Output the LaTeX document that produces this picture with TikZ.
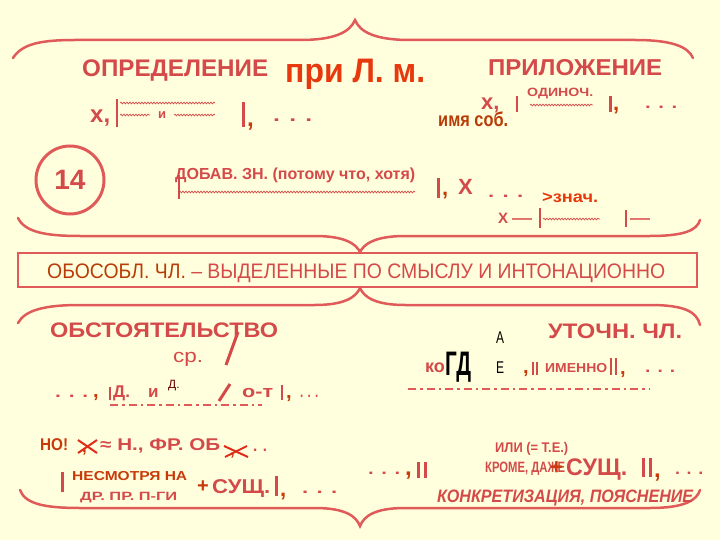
\documentclass[tikz,border=0pt]{standalone}
\usepackage{fontspec}
\setmainfont{Liberation Sans}
\usetikzlibrary{decorations.pathmorphing}
\definecolor{bg}{HTML}{FFFFDD}
\definecolor{lred}{HTML}{E05A5A}
\definecolor{tred}{HTML}{D44A4A}
\definecolor{ored}{HTML}{E8380E}
\definecolor{dor}{HTML}{C83A0A}
\definecolor{brn}{HTML}{B83C08}
\definecolor{crs}{HTML}{E02A1A}
\newcommand\fs[1]{\fontsize{#1}{#1}\selectfont}
\newcommand\fw[3]{\resizebox{#1pt}{\height}{\fontsize{#2}{#2}\selectfont #3}}
\begin{document}
\begin{tikzpicture}[x=1pt,y=-1pt,
  brace/.style={draw=lred,line width=2.5pt,line cap=round},
  t/.style={inner sep=0pt,anchor=base west,text=tred,font=\bfseries},
  bar/.style={draw=tred,line width=1.5pt},
  tbar/.style={draw=tred,line width=3pt},
  wavy/.style={draw=tred,line width=0.7pt,decorate,decoration={snake,amplitude=0.9pt,segment length=3pt}},
  dd/.style={draw=lred,line width=2.5pt,dash pattern=on 8pt off 4pt on 2.5pt off 4pt},
  cross/.style={draw=crs,line width=2pt}]
\fill[bg] (0,0) rectangle (720,540);
\useasboundingbox (0,0) rectangle (720,540);

% braces
\draw[brace] (13,58) .. controls (22,44) and (40,40) .. (75,40) -- (300,40) .. controls (335,40) and (350,32) .. (355,20) .. controls (360,32) and (375,40) .. (410,40) -- (635,40) .. controls (670,40) and (688,46) .. (693,58);
\draw[brace] (18,218) .. controls (25,232) and (45,236) .. (80,236) -- (315,236) .. controls (345,236) and (356,244) .. (360,252) .. controls (364,244) and (375,236) .. (405,236) -- (650,236) .. controls (685,236) and (697,230) .. (700,220);
\draw[draw=lred,line width=2.5pt] (18,253) rectangle (697,287);
\draw[brace] (18,323) .. controls (25,310) and (45,305) .. (80,305) -- (315,305) .. controls (345,305) and (356,297) .. (360,288) .. controls (364,297) and (375,305) .. (405,305) -- (650,305) .. controls (685,305) and (697,312) .. (700,325);
\draw[brace] (20,490) .. controls (25,504) and (45,508) .. (80,508) -- (315,508) .. controls (345,508) and (356,516) .. (360,526) .. controls (364,516) and (375,508) .. (405,508) -- (650,508) .. controls (685,508) and (697,500) .. (700,490);

% top row
\node[t] (opr) at (82,77) {\fw{186}{24}{ОПРЕДЕЛЕНИЕ}};
\node[t,text=ored] (pri) at (285,83) {\fw{140}{34}{при Л. м.}};
\node[t] (pril) at (488,76) {\fw{174}{23}{ПРИЛОЖЕНИЕ}};

% left definition
\node[t] (x1) at (90,123) {\fs{24}х,};
\draw[bar] (117,99) -- (117,127);
\draw[wavy] (120,103) -- (215,103);
\draw[wavy] (120,115) -- (150,115);
\node[t] (i1) at (158,119) {\fs{13}и};
\draw[wavy] (174,115) -- (215,115);
\draw[tbar] (243,102) -- (243,127);
\node[t,text=dor] (c1) at (247,127) {\fs{24},};
\node[t] (d1) at (273,122) {\fw{39}{18}{. . .}};

% right apposition
\node[t] (x2) at (481,110) {\fs{22}х,};
\node[t,text=brn] (imya) at (438,127) {\fw{70}{20}{имя соб.}};
\draw[bar] (517,96) -- (517,112);
\node[t] (odin) at (527,97) {\fw{66}{12}{ОДИНОЧ.}};
\draw[wavy] (530,105) -- (593,105);
\draw[tbar] (610,96) -- (610,112);
\node[t,text=dor] (c2) at (613,111) {\fs{22},};
\node[t] (d2) at (645,109) {\fw{32}{16}{. . .}};

% circle 14
\node[draw=lred,line width=3pt,circle,minimum size=68pt,inner sep=0pt,text=tred,font=\bfseries\fs{28}] (n14) at (70,180) {14};

% dobav
\node[t] (dob) at (175,180) {\fw{240}{16}{ДОБАВ. ЗН. (потому что, хотя)}};
\draw[wavy] (179,192) -- (415,192);
\draw[bar] (179,175) -- (179,199);
\draw[tbar] (438,178) -- (438,198);
\node[t,text=dor] (c3) at (442,196) {\fs{22},};
\node[t] (X1) at (458,195) {\fs{22}Х};
\node[t] (d3) at (488,197) {\fw{35}{16}{. . .}};
\node[t,text=ored] (zn) at (542,203) {\fw{56}{16}{>знач.}};
\node[t] (X2) at (498,223) {\fs{15}Х};
\node[t] (em1) at (512,223) {\fw{20}{15}{—}};
\draw[bar] (540,208) -- (540,228);
\draw[wavy] (543,219) -- (600,219);
\draw[draw=tred,line width=2pt] (626,210) -- (626,227);
\node[t] (em2) at (630,223) {\fw{20}{15}{—}};

% box text
\node[t,font=\mdseries] (boxt) at (47,278) {\fw{618}{21}{\textcolor{brn}{ОБОСОБЛ. ЧЛ.} – ВЫДЕЛЕННЫЕ ПО СМЫСЛУ И ИНТОНАЦИОННО}};

% obstoyatelstvo
\node[t] (obst) at (50,337) {\fw{228}{21}{ОБСТОЯТЕЛЬСТВО}};
\node[t] (utoch) at (548,338) {\fw{134}{21}{УТОЧН. ЧЛ.}};
\node[t,font=\mdseries] (sr) at (173,362) {\fw{30}{19}{ср.}};
\draw[draw=tred,line width=3pt] (238,332) -- (226,365);
\draw[draw=tred,line width=3pt] (230,384) -- (219,401);
\node[t] (d4) at (55,397) {\fw{33}{16}{. . .}};
\node[t,text=dor] (c4) at (93,397) {\fs{20},};
\draw[bar] (110,387) -- (110,400);
\node[t] (D1) at (113,397) {\fs{17}Д.};
\node[t] (i2) at (148,397) {\fs{17}и};
\node[t,font=\mdseries,text=black!60!red] (D2) at (168,388) {\fs{12}Д.};
\node[t] (ot) at (242,397) {\fw{31}{17}{о-т}};
\draw[bar] (282,385) -- (282,400);
\node[t,text=dor] (c5) at (286,398) {\fs{20},};
\node[t] (d5) at (300,397) {\fw{18}{16}{. . .}};
\draw[dd] (110,405) -- (262,405);

% utochn
\node[t] (ko) at (425,372) {\fs{18}ко};
\node[t,text=black] (gd) at (445,375) {\fw{26}{34}{ГД}};
\node[t,text=black,font=\mdseries] (A) at (496,343) {\fw{8}{17}{А}};
\node[t,text=black,font=\mdseries] (E) at (496,373) {\fw{8}{17}{Е}};
\node[t,text=dor] (c6) at (523,373) {\fs{20},};
\draw[bar] (533,362) -- (533,375);
\draw[bar] (537,362) -- (537,375);
\node[t] (imen) at (545,372) {\fw{62}{13}{ИМЕННО}};
\draw[bar] (611,358) -- (611,375);
\draw[bar] (616,358) -- (616,375);
\node[t,text=dor] (c7) at (620,374) {\fs{20},};
\node[t] (d6) at (645,372) {\fw{30}{16}{. . .}};
\draw[dd] (408,389) -- (650,389);

% no!
\node[t,text=dor] (no) at (40,450) {\fw{28}{17}{НО!}};
\node[t,text=dor] (c8) at (82,452) {\fs{17},};
\draw[cross] (78,440) -- (97,453);
\draw[cross] (78,453) -- (97,440);
\node[t] (hfr) at (100,450) {\fw{120}{17}{≈ Н., ФР. ОБ}};
\node[t,text=dor] (c9) at (230,455) {\fs{17},};
\draw[cross] (224,446) -- (248,457);
\draw[cross] (225,457) -- (247,446);
\node[t] (d7) at (253,451) {\fw{14}{16}{. .}};
\draw[tbar] (62,472) -- (62,492);
\node[t,text=dor] (nesm) at (72,480) {\fw{115}{13}{НЕСМОТРЯ НА}};
\node[t] (drpr) at (80,500) {\fw{97}{12}{ДР. ПР. П-ГИ}};
\node[t,text=dor] (plus1) at (197,492) {\fs{20}+};
\node[t] (sush1) at (212,493) {\fw{58}{20}{СУЩ.}};
\draw[tbar] (276,476) -- (276,496);
\node[t,text=dor] (c10) at (280,496) {\fs{22},};
\node[t] (d8) at (302,493) {\fw{35}{16}{. . .}};

% bottom right
\node[t] (d9) at (368,474) {\fw{32}{16}{. . .}};
\node[t,text=dor] (c11) at (405,475) {\fs{24},};
\draw[tbar] (418,462) -- (418,478);
\draw[tbar] (425,462) -- (425,478);
\node[t] (ili) at (495,452) {\fw{73}{14}{ИЛИ (= Т.Е.)}};
\node[t] (krome) at (485,472) {\fw{80}{15}{КРОМЕ, ДАЖЕ}};
\node[t,text=dor] (plus2) at (550,474) {\fs{22}+};
\node[t] (sush2) at (566,475) {\fw{61}{24}{СУЩ.}};
\draw[tbar] (643,458) -- (643,477);
\draw[tbar] (650,458) -- (650,477);
\node[t,text=dor] (c12) at (654,477) {\fs{24},};
\node[t] (d10) at (675,474) {\fw{28}{16}{. . .}};
\node[t,font=\bfseries\itshape] (konk) at (437,502) {\fw{256}{18}{КОНКРЕТИЗАЦИЯ, ПОЯСНЕНИЕ}};
\end{tikzpicture}
\end{document}
